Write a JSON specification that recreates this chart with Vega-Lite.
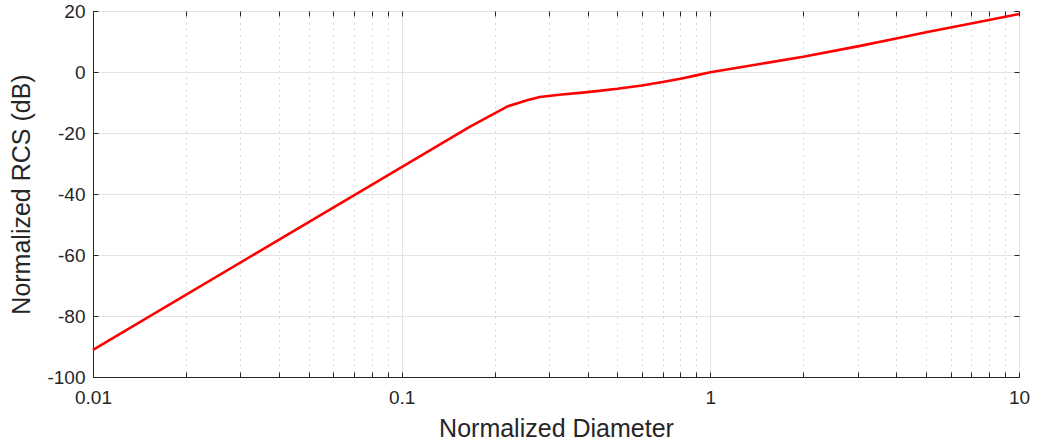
{
  "$schema": "https://vega.github.io/schema/vega-lite/v6.json",
  "width": 926,
  "height": 366,
  "autosize": {"type": "none"},
  "padding": {"left": 93, "top": 11, "right": 19, "bottom": 67},
  "background": "white",
  "config": {
    "view": {"stroke": "#262626", "strokeWidth": 1},
    "axis": {
      "labelFont": "Liberation Sans",
      "titleFont": "Liberation Sans",
      "labelColor": "#262626",
      "titleColor": "#262626",
      "titleFontWeight": "normal",
      "domainColor": "#262626",
      "tickColor": "#262626",
      "labelFontSize": 19,
      "titleFontSize": 25
    }
  },
  "data": {
    "values": [
      {"d": 0.01, "rcs": -91.1},
      {"d": 0.166, "rcs": -18.0},
      {"d": 0.221, "rcs": -11.2},
      {"d": 0.255, "rcs": -9.3},
      {"d": 0.28, "rcs": -8.2},
      {"d": 0.33, "rcs": -7.4},
      {"d": 0.4, "rcs": -6.6},
      {"d": 0.5, "rcs": -5.5},
      {"d": 0.6, "rcs": -4.4},
      {"d": 0.7, "rcs": -3.3},
      {"d": 0.8, "rcs": -2.2},
      {"d": 0.9, "rcs": -1.1},
      {"d": 1.0, "rcs": -0.1},
      {"d": 1.4, "rcs": 2.4},
      {"d": 2.0, "rcs": 5.0},
      {"d": 3.0, "rcs": 8.4},
      {"d": 4.0, "rcs": 11.0},
      {"d": 5.0, "rcs": 13.0},
      {"d": 7.0, "rcs": 15.9},
      {"d": 10.0, "rcs": 19.0}
    ]
  },
  "layer": [
    {
      "mark": {"type": "line", "opacity": 0},
      "encoding": {
        "x": {
          "field": "d", "type": "quantitative",
          "scale": {"type": "log", "domain": [0.01, 10], "nice": false},
          "axis": {
            "orient": "top", "labels": false, "title": null, "grid": false, "domain": false,
            "tickSize": -5,
            "values": [0.01,0.02,0.03,0.04,0.05,0.06,0.07,0.08,0.09,0.1,0.2,0.3,0.4,0.5,0.6,0.7,0.8,0.9,1,2,3,4,5,6,7,8,9,10]
          }
        },
        "y": {
          "field": "rcs", "type": "quantitative",
          "scale": {"domain": [-100, 20], "nice": false},
          "axis": {
            "orient": "right", "labels": false, "title": null, "grid": false, "domain": false,
            "tickSize": -5,
            "values": [-100,-80,-60,-40,-20,0,20]
          }
        }
      }
    },
    {
      "mark": {"type": "line", "color": "#ff0000", "strokeWidth": 2.6},
      "encoding": {
        "x": {
          "field": "d", "type": "quantitative",
          "scale": {"type": "log", "domain": [0.01, 10], "nice": false},
          "axis": {
            "orient": "bottom",
            "title": "Normalized Diameter",
            "titlePadding": 9,
            "values": [0.01,0.02,0.03,0.04,0.05,0.06,0.07,0.08,0.09,0.1,0.2,0.3,0.4,0.5,0.6,0.7,0.8,0.9,1,2,3,4,5,6,7,8,9,10],
            "format": "~g",
            "labelExpr": "abs(log(datum.value)/LN10 - round(log(datum.value)/LN10)) < 0.001 ? datum.label : ''",
            "tickSize": -5,
            "labelPadding": 16,
            "labelFlush": false,
            "labelOverlap": false,
            "grid": true,
            "gridColor": {"condition": {"test": "abs(log(datum.value)/LN10 - round(log(datum.value)/LN10)) < 0.001", "value": "#e3e3e3"}, "value": "#b5b5b5"},
            "gridDash": {"condition": {"test": "abs(log(datum.value)/LN10 - round(log(datum.value)/LN10)) < 0.001", "value": []}, "value": [1, 5]}
          }
        },
        "y": {
          "field": "rcs", "type": "quantitative",
          "scale": {"domain": [-100, 20], "nice": false},
          "axis": {
            "orient": "left",
            "title": "Normalized RCS (dB)",
            "titlePadding": 12,
            "values": [-100,-80,-60,-40,-20,0,20],
            "labelExpr": "toString(datum.value)",
            "tickSize": -5,
            "labelPadding": 13,
            "grid": true,
            "gridColor": "#e3e3e3"
          }
        }
      }
    }
  ],
  "resolve": {"axis": {"x": "independent", "y": "independent"}}
}
